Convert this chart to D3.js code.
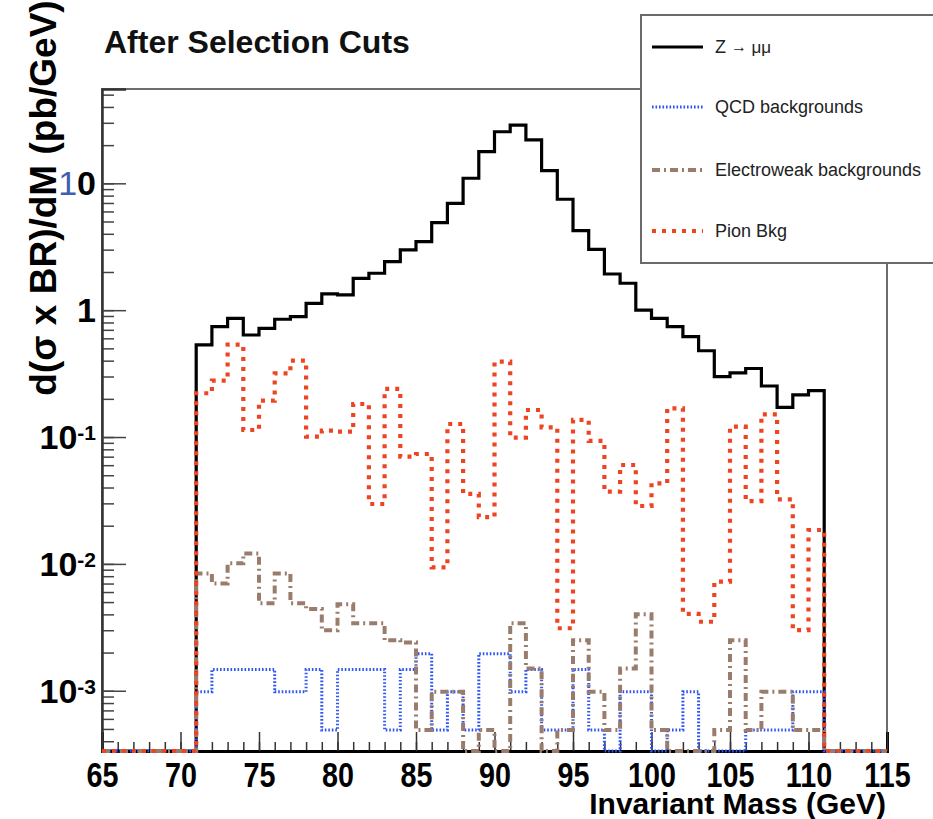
<!DOCTYPE html>
<html>
<head>
<meta charset="utf-8">
<script src="https://cdn.jsdelivr.net/npm/d3@7"></script>
<style>
  html, body { margin: 0; padding: 0; background: #ffffff; }
  svg { display: block; font-family: "Liberation Sans", Arial, Helvetica, sans-serif; }
</style>
</head>
<body>
<svg id="chart" width="933" height="819"></svg>
<script>
// ---- data: d(sigma x BR)/dM in pb/GeV, 1 GeV bins from 71 to 111 GeV ----
const firstBinEdge = 71;
const lastBinEdge = 111;
const massRange = [65, 115];

const zMuMu = [0.532, 0.741, 0.863, 0.637, 0.720, 0.848, 0.889, 1.133, 1.342, 1.318,
               1.784, 1.954, 2.412, 2.983, 3.467, 4.896, 6.96, 10.96, 17.77, 25.5,
               28.8, 21.97, 12.58, 7.49, 4.23, 3.02, 1.929, 1.630, 1.00, 0.863,
               0.741, 0.618, 0.479, 0.299, 0.321, 0.347, 0.2526, 0.1716, 0.2146, 0.232];

const qcdBkg = [0.00098, 0.00147, 0.00147, 0.00147, 0.00147, 0.00098, 0.00098, 0.00147, 0.00049, 0.00147,
                0.00147, 0.00147, 0.00049, 0.00147, 0.00196, 0.00049, 0.00098, 0.00049, 0.00196, 0.00196,
                0.00098, 0.00147, 0.00049, 0.00049, 0.00147, 0.00049, 0, 0.00098, 0.00098, 0,
                0.00049, 0.00098, 0, 0, 0, 0.00049, 0.00049, 0.00049, 0.00098, 0.00098];

const ewkBkg = [0.0084, 0.0070, 0.0101, 0.0121, 0.0049, 0.0084, 0.0049, 0.0044, 0.0030, 0.0048,
                0.0034, 0.0034, 0.0025, 0.0024, 0.00049, 0.00098, 0.00098, 0, 0.00049, 0,
                0.0034, 0.0015, 0, 0.00049, 0.0025, 0.00098, 0.00049, 0.0015, 0.0040, 0.00049,
                0, 0, 0, 0.00049, 0.0025, 0.00049, 0.00098, 0.00098, 0.00049, 0.00049];

const pionBkg = [0.2213, 0.278, 0.535, 0.1136, 0.1934, 0.318, 0.400, 0.1007, 0.1122, 0.1102,
                 0.1822, 0.02966, 0.2393, 0.070, 0.0735, 0.0094, 0.1267, 0.0356, 0.0234, 0.3927,
                 0.0988, 0.1634, 0.1193, 0.00311, 0.1363, 0.0931, 0.0371, 0.0602, 0.0286, 0.0432,
                 0.1685, 0.00403, 0.0035, 0.00724, 0.1207, 0.0313, 0.1511, 0.0323, 0.00301, 0.0185];

const xMajorTicks = [65, 70, 75, 80, 85, 90, 95, 100, 105, 110, 115];
const yMajorTicks = [1e-3, 1e-2, 1e-1, 1, 10];
const yTickBase = ["10", "10", "10", "1", "10"];
const yTickExp = ["-3", "-2", "-1", "", ""];

const titleText = "After Selection Cuts";
const xTitle = "Invariant Mass (GeV)";
const yTitle = "d(σ x BR)/dM (pb/GeV)";
const legendLabels = ["Z → μμ", "QCD backgrounds", "Electroweak backgrounds", "Pion Bkg"];

// ---- layout ----
const frame = { left: 102, right: 887, top: 89, bottom: 751 };
const svg = d3.select("#chart");

const x = d3.scaleLinear().domain(massRange).range([frame.left, frame.right]);
const y = d3.scaleLog().domain([3.35e-4, 55.4]).range([frame.bottom, frame.top]);

const styles = {
  z:    { stroke: "#000000", width: 3.2, dash: null },
  qcd:  { stroke: "#2f55f2", width: 3,   dash: "1.6,1.9" },
  ewk:  { stroke: "#9a7c6c", width: 4,   dash: "8,4,2,4" },
  pion: { stroke: "#ef4422", width: 4.2, dash: "4,6" }
};

// ---- frame ----
svg.append("rect")
  .attr("x", frame.left).attr("y", frame.top)
  .attr("width", frame.right - frame.left).attr("height", frame.bottom - frame.top)
  .attr("fill", "none").attr("stroke", "#6d6d6d").attr("stroke-width", 2);

// ---- x axis (ticks point into the frame) ----
const xMinor = d3.range(massRange[0], massRange[1] + 1, 1);
svg.append("g")
  .attr("transform", `translate(0,${frame.bottom})`)
  .call(d3.axisBottom(x).tickValues(xMinor).tickSize(-9).tickFormat(""))
  .call(g => g.select(".domain").remove())
  .call(g => g.selectAll("line").attr("stroke", "#333").attr("stroke-width", 1.5));

const xAxisG = svg.append("g")
  .attr("transform", `translate(0,${frame.bottom})`)
  .call(d3.axisBottom(x).tickValues(xMajorTicks).tickSize(-19).tickPadding(0).tickFormat(d3.format("d")));
xAxisG.select(".domain").attr("stroke", "#000").attr("stroke-width", 3);
xAxisG.selectAll("line").attr("stroke", "#333").attr("stroke-width", 1.5);
xAxisG.selectAll("text")
  .attr("y", 36).attr("dy", 0)
  .attr("transform", "scale(0.82,1)")
  .attr("fill", "#000")
  .style("font-size", "35px").style("font-weight", "bold")
  .style("font-family", "'Liberation Sans', Arial, sans-serif");

// ---- y axis (log) ----
const yMinor = y.ticks().filter(v => v >= y.domain()[0] && v <= y.domain()[1]);
svg.append("g")
  .attr("transform", `translate(${frame.left},0)`)
  .call(d3.axisLeft(y).tickValues(yMinor).tickSize(-12).tickFormat(""))
  .call(g => g.select(".domain").remove())
  .call(g => g.selectAll("line").attr("stroke", "#444").attr("stroke-width", 1.5));

const yAxisG = svg.append("g")
  .attr("transform", `translate(${frame.left},0)`)
  .call(d3.axisLeft(y).tickValues(yMajorTicks).tickSize(-24).tickFormat(""));
yAxisG.select(".domain").attr("stroke", "#333").attr("stroke-width", 2.5);
yAxisG.selectAll("line").attr("stroke", "#444").attr("stroke-width", 1.5);

const yLabels = svg.append("g");
yMajorTicks.forEach((v, i) => {
  const t = yLabels.append("text")
    .attr("x", 96).attr("y", y(v) + 12)
    .attr("text-anchor", "end")
    .attr("fill", "#000")
    .style("font-weight", "bold")
    .style("font-size", "34px");
  if (v === 10) {
    // the leading digit of this label is set in a thin blue stroke
    t.append("tspan").style("font-weight", "normal").attr("fill", "#3d5fb0")
      .text(yTickBase[i][0]);
    t.append("tspan").text(yTickBase[i].slice(1));
  } else {
    t.append("tspan").text(yTickBase[i]);
  }
  if (yTickExp[i]) {
    t.append("tspan").attr("dy", -9).style("font-size", "21px").text(yTickExp[i]);
  }
});

// ---- step histograms (drawn over the axes, zero bins sit on the frame bottom) ----
svg.append("clipPath").attr("id", "plotClip")
  .append("rect")
  .attr("x", frame.left - 3).attr("y", frame.top)
  .attr("width", frame.right - frame.left + 6).attr("height", frame.bottom - frame.top + 3);

function stepPoints(values) {
  const pts = [[massRange[0], 0]];
  values.forEach((v, i) => pts.push([firstBinEdge + i, v]));
  pts.push([lastBinEdge, 0]);
  pts.push([massRange[1], 0]);
  return pts;
}
const yv = v => (v > 0 ? y(v) : frame.bottom);
const stepLine = d3.line()
  .x(d => x(d[0]))
  .y(d => yv(d[1]))
  .curve(d3.curveStepAfter);

const plot = svg.append("g").attr("clip-path", "url(#plotClip)");
[[zMuMu, styles.z], [qcdBkg, styles.qcd], [ewkBkg, styles.ewk], [pionBkg, styles.pion]]
  .forEach(([vals, st]) => {
    plot.append("path")
      .attr("d", stepLine(stepPoints(vals)))
      .attr("fill", "none")
      .attr("stroke", st.stroke)
      .attr("stroke-width", st.width)
      .attr("stroke-dasharray", st.dash)
      .attr("stroke-linejoin", "miter");
  });

// ---- titles ----
svg.append("text")
  .attr("x", 104).attr("y", 53)
  .attr("fill", "#111")
  .style("font-size", "32px").style("font-weight", "bold")
  .text(titleText);

svg.append("text")
  .attr("x", 886).attr("y", 814)
  .attr("text-anchor", "end")
  .attr("fill", "#000")
  .style("font-size", "30px").style("font-weight", "bold")
  .text(xTitle);

svg.append("text")
  .attr("transform", "translate(56,198) rotate(-90)")
  .attr("text-anchor", "middle")
  .attr("fill", "#000")
  .style("font-size", "37px").style("font-weight", "bold")
  .text(yTitle);

// ---- legend ----
const legend = svg.append("g");
legend.append("rect")
  .attr("x", 641).attr("y", 15)
  .attr("width", 310).attr("height", 248)
  .attr("fill", "#fff").attr("stroke", "#6a6a6a").attr("stroke-width", 2);

const legendRowsY = [47, 107, 170, 231];
const legendStyles = [styles.z, styles.qcd, styles.ewk, styles.pion];
legendLabels.forEach((label, i) => {
  const ry = legendRowsY[i];
  const st = legendStyles[i];
  legend.append("line")
    .attr("x1", 652).attr("x2", 703).attr("y1", ry).attr("y2", ry)
    .attr("stroke", st.stroke).attr("stroke-width", st.width)
    .attr("stroke-dasharray", st.dash);
  const t = legend.append("text")
    .attr("x", 715).attr("y", ry + 6)
    .attr("fill", "#222")
    .style("font-size", "18px");
  if (i === 0) {
    const parts = label.split(" ");
    t.append("tspan").text(parts[0] + " ");
    t.append("tspan").style("font-size", "16px").attr("dy", -1).text(parts[1] + " ");
    t.append("tspan").style("font-size", "17px").attr("dy", 1).text(parts[2]);
  } else {
    t.text(label);
  }
});
</script>
</body>
</html>
